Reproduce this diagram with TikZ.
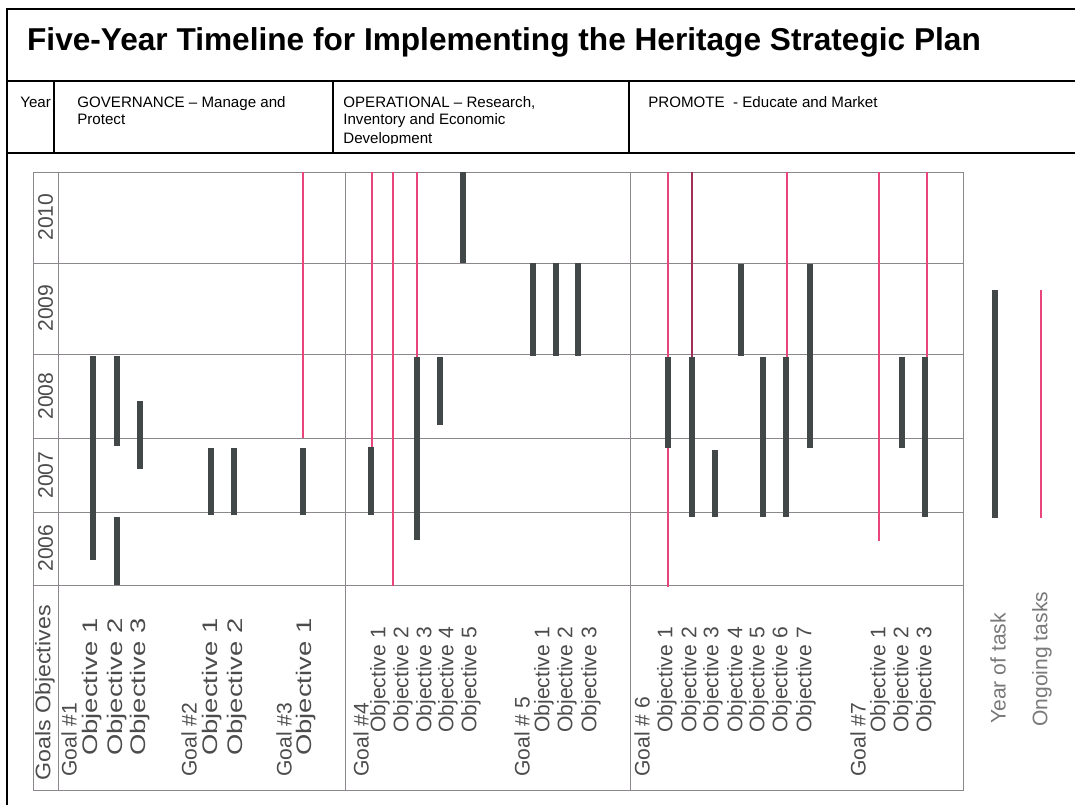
\documentclass[tikz,border=0pt]{standalone}
\usepackage{fontspec}
\setmainfont{Liberation Sans}
\usepackage{graphicx}
\usepackage{tikz}
\usepackage{xcolor}
\definecolor{ongoingpink}{rgb}{0.91, 0.27, 0.48}
\definecolor{taskgrey}{rgb}{0.26, 0.28, 0.28}
\definecolor{gridgrey}{rgb}{0.55, 0.53, 0.55}
\definecolor{scantext}{rgb}{0.3, 0.3, 0.3}
\newcommand{\stretched}[2]{\scalebox{#1}[1]{#2}}

\begin{document}
\begin{tikzpicture}[x=0.02cm, y=-0.02cm,
  frameline/.style={line width=1pt},
  gridline/.style={gridgrey, line width=0.5pt},
  taskbar/.style={taskgrey, line width=0.12cm},
  ongoing/.style={ongoingpink, line width=1.1pt},
  head/.style={font=\fontsize{8.6}{10}\selectfont, inner sep=0pt, anchor=base west},
  lbl/.style={rotate=90, anchor=west, inner sep=0pt, scantext, font=\fontsize{12}{12}\selectfont}]
\useasboundingbox (0,0) rectangle (1075,805);

% Table frame
\draw[frameline] (1075,9) -- (7,9) -- (7,805);
\draw[frameline] (7,81) -- (1075,81);
\draw[frameline] (7,153) -- (1075,153);
\draw[frameline] (54,81) -- (54,153) (333,81) -- (333,153) (629,81) -- (629,153);

% Title and column heads
\node[font=\fontsize{18}{18}\selectfont\bfseries, anchor=base] (title) at (504,50)
  {Five-Year Timeline for Implementing the Heritage Strategic Plan};
\node[head] (year) at (20,107) {Year};
\node[head] (gov1) at (77,107) {GOVERNANCE -- Manage and};
\node[head] (gov2) at (77,124.5) {Protect};
\node[head] (op1) at (343,107) {OPERATIONAL -- Research,};
\node[head] (op2) at (343,124.5) {Inventory and Economic};
\begin{scope}
\clip (333,81) rectangle (629,143.5);
\node[head] (op3) at (343,143) {Development};
\end{scope}
\node[head] (prom) at (648,107) {PROMOTE\ \ - Educate and Market};

% Chart grid
\draw[gridline] (33,172) rectangle (963,790);
\foreach \y in {263,354,438,512,585}
  \draw[gridline] (33,\y) -- (963,\y);
\foreach \x in {58,345,630}
  \draw[gridline] (\x,172) -- (\x,790);

% Years
\foreach \yr/\y in {2010/217,2009/308,2008/396,2007/475,2006/548}
  \node[rotate=90, scantext, font=\fontsize{12}{12}\selectfont] (y\yr) at (45.5,\y) {\yr};

% Ongoing tasks
\foreach \x/\a/\b in {303/172/438, 372/172/447, 393/172/586, 417/172/357,
    668/172/587, 787/172/357, 879/172/541, 927/172/357}
  \draw[ongoing] (\x,\a) -- (\x,\b);
\draw[ongoing, ongoingpink!70!black] (692,172) -- (692,357);

% Year of task
\foreach \x/\a/\b in {93/356/560, 117/356/446, 117/517/585, 140/401/469,
    211/448/515, 234/448/515, 303/448/515,
    371/447/515, 417/357/540, 440/357/425, 463/172/263,
    533/263/356, 556/263/356, 578/263/356,
    668/357/448, 692/357/517, 715/450/517, 741/264/356, 763/357/517,
    786/357/517, 810/264/448, 902/357/448, 925/357/517}
  \draw[taskbar] (\x,\a) -- (\x,\b);

% Goals and objectives
\node[lbl] (goals) at (45,781) {\stretched{1.1}{Goals Objectives}};
\node[lbl] (g1) at (69,777) {Goal \#1};
\foreach \x [count=\i] in {92,117,140}
  \node[lbl] (g1o\i) at (\x,756) {\stretched{1.3}{Objective \i}};
\node[lbl] (g2) at (189,777) {Goal \#2};
\foreach \x [count=\i] in {212,237}
  \node[lbl] (g2o\i) at (\x,756) {\stretched{1.3}{Objective \i}};
\node[lbl] (g3) at (284,777) {Goal \#3};
\node[lbl] (g3o1) at (306,756) {\stretched{1.3}{Objective 1}};
\node[lbl] (g4) at (361,777) {Goal \#4};
\foreach \x [count=\i] in {380,403,426,448,471}
  \node[lbl] (g4o\i) at (\x,733) {Objective \i};
\node[lbl] (g5) at (522,777) {Goal \# 5};
\foreach \x [count=\i] in {544,567,591}
  \node[lbl] (g5o\i) at (\x,733) {Objective \i};
\node[lbl] (g6) at (642,777) {Goal \# 6};
\foreach \x [count=\i] in {667,691,713,737,759,782,806}
  \node[lbl] (g6o\i) at (\x,733) {Objective \i};
\node[lbl] (g7) at (858,777) {Goal \#7};
\foreach \x [count=\i] in {880,903,926}
  \node[lbl] (g7o\i) at (\x,733) {Objective \i};

% Legend
\draw[taskbar] (995,290) -- (995,518);
\draw[ongoing] (1041,290) -- (1041,518);
\node[lbl, scantext!75] (leg1) at (998,724) {Year of task};
\node[lbl, scantext!75] (leg2) at (1042,727) {Ongoing tasks};
\end{tikzpicture}
\end{document}
